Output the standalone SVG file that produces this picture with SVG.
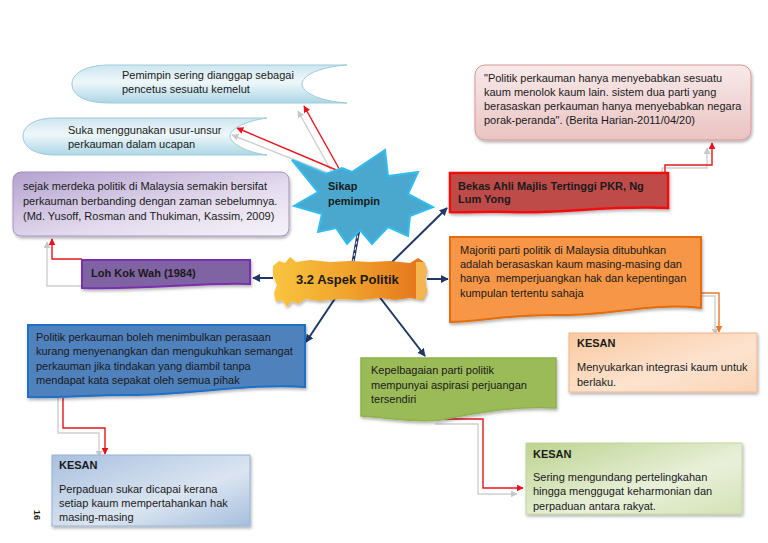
<svg xmlns="http://www.w3.org/2000/svg" width="768" height="543" viewBox="0 0 768 543">
<style>
text{font-family:"Liberation Sans",Arial,sans-serif;font-size:11px;fill:#1a1a1a;white-space:pre}
.b{font-weight:bold}
.nav{fill:none;stroke:#1f3864;stroke-width:2}
.red{fill:none;stroke:#e8141c;stroke-width:1.4}
.gry{fill:none;stroke:#cfcfcf;stroke-width:1.4}
.org{fill:none;stroke:#ea7b2c;stroke-width:1.4}
</style>
<defs>
<filter id="sh" x="-10%" y="-10%" width="120%" height="130%"><feDropShadow dx="1" dy="2" stdDeviation="1.5" flood-color="#000" flood-opacity="0.3"/></filter>
<marker id="an" viewBox="0 0 10 10" refX="9" refY="5" markerWidth="8" markerHeight="8" markerUnits="userSpaceOnUse" orient="auto"><path d="M0,0 L10,5 L0,10 Z" fill="#1f3864"/></marker>
<marker id="ar" viewBox="0 0 10 10" refX="9" refY="5" markerWidth="7" markerHeight="7" markerUnits="userSpaceOnUse" orient="auto"><path d="M0,0 L10,5 L0,10 Z" fill="#e8141c"/></marker>
<marker id="ag" viewBox="0 0 10 10" refX="9" refY="5" markerWidth="7" markerHeight="7" markerUnits="userSpaceOnUse" orient="auto"><path d="M0,0 L10,5 L0,10 Z" fill="#c8c8c8"/></marker>
<marker id="ao" viewBox="0 0 10 10" refX="9" refY="5" markerWidth="7" markerHeight="7" markerUnits="userSpaceOnUse" orient="auto"><path d="M0,0 L10,5 L0,10 Z" fill="#ea7b2c"/></marker>
<linearGradient id="gCloud" x1="0" y1="0" x2="0" y2="1"><stop offset="0" stop-color="#cde6ef"/><stop offset="0.45" stop-color="#eef7fa"/><stop offset="1" stop-color="#add6e5"/></linearGradient>
<linearGradient id="gPur" x1="0" y1="0" x2="1" y2="1"><stop offset="0" stop-color="#b4a2cf"/><stop offset="0.6" stop-color="#e4dcee"/><stop offset="1" stop-color="#f6f3fa"/></linearGradient>
<linearGradient id="gPink" x1="0" y1="0" x2="0" y2="1"><stop offset="0" stop-color="#f8eaea"/><stop offset="1" stop-color="#eac3c2"/></linearGradient>
<linearGradient id="gCen" x1="0" y1="0" x2="1" y2="0"><stop offset="0" stop-color="#f9c53e"/><stop offset="0.5" stop-color="#f1a22c"/><stop offset="1" stop-color="#e2711c"/></linearGradient>
<linearGradient id="gOK" x1="0" y1="0" x2="1" y2="1"><stop offset="0" stop-color="#f9c9a0"/><stop offset="0.6" stop-color="#fde3cf"/><stop offset="1" stop-color="#fbd4b6"/></linearGradient>
<linearGradient id="gBK" x1="0" y1="0" x2="1" y2="1"><stop offset="0" stop-color="#a9c0df"/><stop offset="0.6" stop-color="#dbe5f1"/><stop offset="1" stop-color="#a5bedd"/></linearGradient>
<linearGradient id="gGK" x1="0" y1="0" x2="1" y2="1"><stop offset="0" stop-color="#bcd38f"/><stop offset="0.6" stop-color="#e9f0da"/><stop offset="1" stop-color="#d3e2b5"/></linearGradient>
<clipPath id="cB"><rect x="52" y="455" width="198" height="71"/></clipPath>
<clipPath id="cG"><rect x="526" y="443" width="216" height="71"/></clipPath>
</defs>

<g id="connectors">
<line class="nav" x1="273" y1="278" x2="253" y2="278" marker-end="url(#an)"/>
<line x1="353" y1="262" x2="361" y2="218" stroke="#1f3864" stroke-width="3" marker-end="url(#an)"/>
<line x1="353" y1="262" x2="360" y2="222" stroke="#ffffff" stroke-width="1" stroke-dasharray="3 3"/>
<line class="nav" x1="390" y1="264" x2="447" y2="208" marker-end="url(#an)"/>
<line class="nav" x1="427" y1="279" x2="448" y2="279" marker-end="url(#an)"/>
<line class="nav" x1="336" y1="297" x2="306" y2="342" marker-end="url(#an)"/>
<line class="nav" x1="378" y1="295" x2="425" y2="356" marker-end="url(#an)"/>
<line class="gry" x1="333" y1="174" x2="298" y2="111" marker-end="url(#ag)"/>
<line class="red" x1="341" y1="172" x2="304" y2="106" marker-end="url(#ar)"/>
<line class="gry" x1="333" y1="175" x2="232" y2="135" marker-end="url(#ag)"/>
<line class="red" x1="341" y1="172" x2="237" y2="128" marker-end="url(#ar)"/>
<polyline class="gry" points="662,172 662,168 707,168 707,148" marker-end="url(#ag)"/>
<polyline class="red" points="665,173 665,165 712,165 712,143" marker-end="url(#ar)"/>
<polyline class="gry" points="82,286 47,286 47,242" marker-end="url(#ag)"/>
<polyline class="red" points="82,259 52,259 52,239" marker-end="url(#ar)"/>
<polyline class="gry" points="693,253 693,296 715,296 715,335" marker-end="url(#ag)"/>
<polyline class="org" points="698,293 719,293 719,332" marker-end="url(#ao)"/>
<polyline class="gry" points="58,398 58,433 99,433 99,457" marker-end="url(#ag)"/>
<polyline class="red" points="63,398 63,428 105,428 105,454" marker-end="url(#ar)"/>
<polyline class="gry" points="435,424 478,424 478,494 517,494" marker-end="url(#ag)"/>
<polyline class="red" points="442,419 483,419 483,488 523,488" marker-end="url(#ar)"/>
</g>

<g id="pemimpin-sering">
<path d="M347,65 L110,65 C84,65 72,74 72,84 C72,95 84,103 110,103 L347,103 C318,101 302,92 302,84 C302,76 318,67 347,65 Z" fill="url(#gCloud)" stroke="#9ccbdc" stroke-width="1"/>
<text x="122" y="79">Pemimpin sering dianggap sebagai</text>
<text x="122" y="93">pencetus sesuatu kemelut</text>
</g>

<g id="suka">
<path d="M267,118 L55,118 C33,118 23,127 23,136 C23,146 33,155 55,155 L267,155 C245,152 230,143 230,136 C230,129 245,121 267,118 Z" fill="url(#gCloud)" stroke="#9ccbdc" stroke-width="1"/>
<text x="68" y="134">Suka menggunakan usur-unsur</text>
<text x="68" y="148">perkauman dalam ucapan</text>
</g>

<g id="sejak-merdeka">
<rect x="13" y="172" width="276" height="64" rx="8" fill="url(#gPur)" stroke="#a793c4" stroke-width="1" filter="url(#sh)"/>
<text x="23" y="190">sejak merdeka politik di Malaysia semakin bersifat</text>
<text x="23" y="205">perkauman berbanding dengan zaman sebelumnya.</text>
<text x="23" y="220">(Md. Yusoff, Rosman and Thukiman, Kassim, 2009)</text>
</g>

<g id="quote">
<rect x="475" y="65" width="276" height="75" rx="10" fill="url(#gPink)" stroke="#d99694" stroke-width="1" filter="url(#sh)"/>
<text x="484" y="82">"Politik perkauman hanya menyebabkan sesuatu</text>
<text x="484" y="96">kaum menolok kaum lain. sistem dua parti yang</text>
<text x="484" y="110">berasaskan perkauman hanya menyebabkan negara</text>
<text x="484" y="124">porak-peranda". (Berita Harian-2011/04/20)</text>
</g>

<g id="sikap-pemimpin">
<polygon points="292,160 326,174 342,168 352,172 385,150 388,176 418,172 408,194 433,207 410,216 408,236 388,227 372,244 360,230 347,244 336,228 318,232 322,214 294,206 318,192" fill="#4aa8cf" stroke="#34bcef" stroke-width="2" stroke-linejoin="miter"/>
<text class="b" x="328" y="190">Sikap</text>
<text class="b" x="328" y="205">pemimpin</text>
</g>

<g id="bekas-ahli">
<path d="M450,173 L668,173 L668,208 C610,205 560,214 510,212 C485,211 465,213 450,212 Z" fill="#bf4c4a" stroke="#f01010" stroke-width="2.5" filter="url(#sh)"/>
<text class="b" x="458" y="190">Bekas Ahli Majlis Tertinggi PKR, Ng</text>
<text class="b" x="458" y="203">Lum Yong</text>
</g>

<g id="loh-kok-wah">
<path d="M82,260 L250,260 L250,284 C200,282 150,290 82,288 Z" fill="#8064a2" stroke="#7a2fb0" stroke-width="2" filter="url(#sh)"/>
<text class="b" x="91" y="277">Loh Kok Wah (1984)</text>
</g>

<g id="aspek-politik">
<path d="M273,266 L279,261 L285,263 L290,257 L296,262 L310,260 L330,262 L350,261 L370,262 L390,261 L410,263 L418,258 L424,262 L427,270 L425,280 L427,292 L423,300 L410,298 L395,300 L380,298 L360,300 L340,299 L320,301 L305,299 L298,304 L292,301 L287,307 L282,300 L276,302 L274,293 L277,285 L273,276 Z" fill="url(#gCen)" filter="url(#sh)"/>
<path d="M416,262 L424,262 L427,270 L425,280 L427,292 L423,300 L416,299 Z" fill="#f6c25a" opacity="0.85"/>
<text class="b" x="296" y="284" style="font-size:13px">3.2 Aspek Politik</text>
</g>

<g id="majoriti">
<path d="M450,237 L701,237 L701,308 C650,302 610,316 560,315 C510,314 480,322 450,322 Z" fill="#f79646" stroke="#e46c0a" stroke-width="2" filter="url(#sh)"/>
<text x="460" y="254">Majoriti parti politik di Malaysia ditubuhkan</text>
<text x="460" y="268">adalah berasaskan kaum masing-masing dan</text>
<text x="460" y="282">hanya  memperjuangkan hak dan kepentingan</text>
<text x="460" y="297">kumpulan tertentu sahaja</text>
</g>

<g id="kesan-orange">
<rect x="569" y="333" width="188" height="59" fill="url(#gOK)" stroke="#f6b48a" stroke-width="1" filter="url(#sh)"/>
<text class="b" x="577" y="347">KESAN</text>
<text x="577" y="371">Menyukarkan integrasi kaum untuk</text>
<text x="577" y="386">berlaku.</text>
</g>

<g id="politik-perkauman">
<path d="M28,325 L305,325 L305,387 C250,383 190,395 130,395 C90,395 55,398 28,397 Z" fill="#4f81bd" stroke="#1f6fc8" stroke-width="2" filter="url(#sh)"/>
<text x="36" y="341">Politik perkauman boleh menimbulkan perasaan</text>
<text x="36" y="355">kurang menyenangkan dan mengukuhkan semangat</text>
<text x="36" y="370">perkauman jika tindakan yang diambil tanpa</text>
<text x="36" y="384">mendapat kata sepakat oleh semua pihak</text>
</g>

<g id="kesan-blue">
<rect x="52" y="455" width="198" height="71" fill="url(#gBK)" stroke="#95b3d7" stroke-width="1" filter="url(#sh)"/>
<g clip-path="url(#cB)">
<text class="b" x="59" y="469">KESAN</text>
<text x="59" y="493">Perpaduan sukar dicapai kerana</text>
<text x="59" y="507">setiap kaum mempertahankan hak</text>
<text x="59" y="521">masing-masing</text>
</g>
</g>

<g id="kepelbagaian">
<path d="M361,358 L556,358 L556,408 C520,406 490,410 440,420 C410,423 385,417 361,416 Z" fill="#9bbb59" stroke="#8fb24c" stroke-width="1.5" filter="url(#sh)"/>
<text x="371" y="374">Kepelbagaian parti politik</text>
<text x="371" y="389">mempunyai aspirasi perjuangan</text>
<text x="371" y="403">tersendiri</text>
</g>

<g id="kesan-green">
<rect x="526" y="443" width="216" height="71" fill="url(#gGK)" stroke="#c3d69b" stroke-width="1" filter="url(#sh)"/>
<g clip-path="url(#cG)">
<text class="b" x="533" y="458">KESAN</text>
<text x="533" y="481">Sering mengundang pertelingkahan</text>
<text x="533" y="495">hingga menggugat keharmonian dan</text>
<text x="533" y="510">perpaduan antara rakyat.</text>
</g>
</g>

<g id="page-number">
<text class="b" x="0" y="0" transform="translate(34,510) rotate(90)" style="font-size:9px">16</text>
</g>
</svg>
